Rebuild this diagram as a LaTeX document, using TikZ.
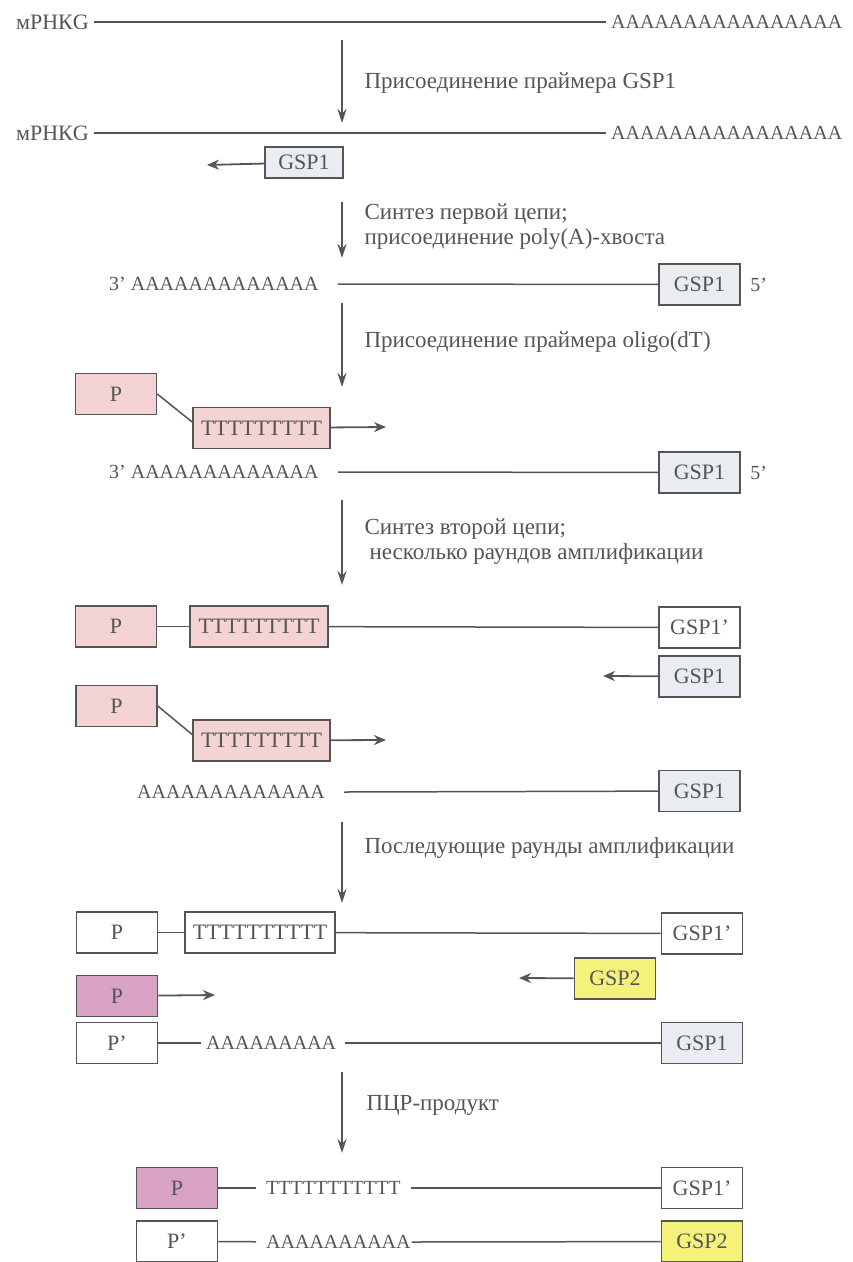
\documentclass[tikz,border=0pt]{standalone}
\usepackage{fontspec}
\setmainfont{Liberation Serif}
\usetikzlibrary{arrows.meta, positioning}
\definecolor{ink}{HTML}{555555}
\definecolor{pinkfill}{HTML}{F3D3D3}
\definecolor{magfill}{HTML}{D9A3C6}
\definecolor{grayfill}{HTML}{E9EDF1}
\definecolor{yelfill}{HTML}{F4F27A}

\begin{document}
\begin{tikzpicture}[x=1pt, y=-1pt, font=\fontsize{20}{22}\selectfont, text=ink,
  box/.style={draw=ink, line width=1.6pt, minimum width=81pt, minimum height=41pt, inner sep=0pt, font=\fontsize{22}{24}\selectfont},
  seq/.style={inner sep=5pt, anchor=west},
  lbl/.style={anchor=west, align=left, font=\fontsize{23}{25}\selectfont},
  strand/.style={draw=ink, line width=1.5pt},
  flow/.style={draw=ink, line width=1.6pt, -{Stealth[length=14pt, width=9pt]}},
  prim/.style={draw=ink, line width=1.8pt, -{Stealth[length=12pt, width=10pt]}}]
\useasboundingbox (0,0) rectangle (853,1262);

% mRNA
\node[seq, font=\fontsize{22}{24}\selectfont] (m1) at (11,22) {мРНКG};
\node[seq] (a1) at (606,22) {AAAAAAAAAAAAAAAA};
\draw[strand] (m1) -- (a1);
\coordinate (s1a) at (342,40);
\coordinate (s1b) at (342,123);
\draw[flow] (s1a) -- (s1b);
\node[lbl] (l1) at (361,83) {Присоединение праймера GSP1};

% GSP1 annealing
\node[seq, font=\fontsize{22}{24}\selectfont] (m2) at (11,133) {мРНКG};
\node[seq] (a2) at (606,133) {AAAAAAAAAAAAAAAA};
\draw[strand] (m2) -- (a2);
\node[box, fill=grayfill, minimum width=78pt, minimum height=31pt] (g2) at (304,162.5) {GSP1};
\coordinate (e2) at (207,165);
\draw[prim] (g2) -- (e2);
\coordinate (s2a) at (342,202);
\coordinate (s2b) at (342,258);
\draw[flow] (s2a) -- (s2b);
\node[lbl] (l2) at (361,227) {Синтез первой цепи;\\присоединение poly(A)-хвоста};

% first strand
\node[seq] (a3) at (104,284) {3’ AAAAAAAAAAAAA};
\node[box, fill=grayfill] (g3) at (699.5,284.5) {GSP1};
\node[right=6pt of g3] (f3) {5’};
\draw[strand] ([xshift=14pt]a3.east) -- (g3);
\coordinate (s3a) at (342,303);
\coordinate (s3b) at (342,387);
\draw[flow] (s3a) -- (s3b);
\node[lbl] (l3) at (361,342) {Присоединение праймера oligo(dT)};

% oligo(dT) primer
\node[box, fill=pinkfill] (p4) at (116,394) {P};
\node[box, fill=pinkfill, minimum width=137pt] (t4) at (261.5,428) {TTTTTTTTT};
\draw[strand] (p4.east) -- ([yshift=6pt]t4.west);
\coordinate (e4) at (386,427);
\draw[prim] (t4) -- (e4);
\node[seq] (a4) at (104,472) {3’ AAAAAAAAAAAAA};
\node[box, fill=grayfill] (g4) at (699.5,472.5) {GSP1};
\node[right=6pt of g4] (f4) {5’};
\draw[strand] ([xshift=14pt]a4.east) -- (g4);
\coordinate (s4a) at (342,500);
\coordinate (s4b) at (342,585);
\draw[flow] (s4a) -- (s4b);
\node[lbl] (l4) at (361,542) {Синтез второй цепи;\\\hspace{5pt}несколько раундов амплификации};

% second strand
\node[box, fill=pinkfill] (p5) at (116,626.5) {P};
\node[box, fill=pinkfill, minimum width=138pt] (t5) at (259,626.5) {TTTTTTTTT};
\node[box] (g5) at (699.5,627.5) {GSP1’};
\draw[strand] (p5) -- (t5);
\draw[strand] (t5) -- (g5);
\node[box, fill=grayfill] (g5b) at (699.5,676.5) {GSP1};
\coordinate (e5) at (603,676);
\draw[prim] (g5b) -- (e5);
\node[box, fill=pinkfill] (p6) at (116.5,706) {P};
\node[box, fill=pinkfill, minimum width=137pt] (t6) at (261.5,740.5) {TTTTTTTTT};
\draw[strand] (p6.east) -- ([yshift=6pt]t6.west);
\coordinate (e6) at (386,740);
\draw[prim] (t6) -- (e6);
\node[seq] (a6) at (132,792) {AAAAAAAAAAAAA};
\node[box, fill=grayfill] (g6) at (699.5,791) {GSP1};
\draw[strand] ([xshift=14pt]a6.east) -- (g6);
\coordinate (s5a) at (342,822);
\coordinate (s5b) at (342,903);
\draw[flow] (s5a) -- (s5b);
\node[lbl] (l5) at (361,848) {Последующие раунды амплификации};

% further rounds
\node[box] (p7) at (117,932.5) {P};
\node[box, minimum width=150pt] (t7) at (260,932.5) {TTTTTTTTTT};
\node[box] (g7) at (702,933.5) {GSP1’};
\draw[strand] (p7) -- (t7);
\draw[strand] (t7) -- (g7);
\node[box, fill=yelfill] (y7) at (615,978.5) {GSP2};
\coordinate (e7) at (519,978);
\draw[prim] (y7) -- (e7);
\node[box, fill=magfill] (q7) at (117,996) {P};
\coordinate (e8) at (215,995);
\draw[prim] (q7) -- (e8);
\node[box] (p8) at (117,1043) {P’};
\node[seq] (a8) at (201,1043) {AAAAAAAAA};
\node[box, fill=grayfill] (g8) at (702,1043) {GSP1};
\draw[strand] (p8) -- (a8);
\draw[strand] ([xshift=4pt]a8.east) -- (g8);
\coordinate (s6a) at (342,1072);
\coordinate (s6b) at (342,1153);
\draw[flow] (s6a) -- (s6b);
\node[lbl] (l6) at (363,1105) {ПЦР-продукт};

% PCR product
\node[box, fill=magfill] (p9) at (177,1188) {P};
\node[seq, inner sep=10pt] (t9) at (256,1188) {TTTTTTTTTTT};
\node[box] (g9) at (702,1188) {GSP1’};
\draw[strand] (p9) -- (t9);
\draw[strand] (t9) -- (g9);
\node[box] (p10) at (177,1241.5) {P’};
\node[seq, inner sep=10pt] (a10) at (256,1242) {AAAAAAAAAA};
\node[box, fill=yelfill] (y10) at (702,1241.5) {GSP2};
\draw[strand] (p10) -- (a10);
\draw[strand] (a10.east) ++(-9pt,0) -- (y10);
\end{tikzpicture}
\end{document}
